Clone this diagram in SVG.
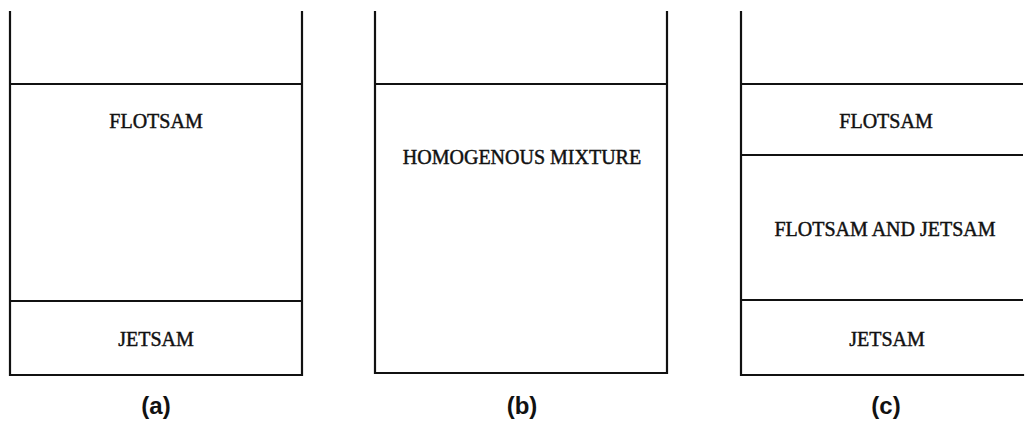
<svg xmlns="http://www.w3.org/2000/svg" width="1025" height="427" viewBox="0 0 1025 427">
  <style>
    .wall { fill: none; stroke: #111; stroke-width: 2.2; stroke-linejoin: miter; stroke-linecap: square; }
    .layer { stroke: #111; stroke-width: 2.2; }
    .lbl { font-family: "Liberation Serif", "Times New Roman", serif; font-size: 20px; fill: #111; stroke: #111; stroke-width: 0.45; text-anchor: middle; }
    .cap { font-family: "Liberation Sans", Arial, sans-serif; font-size: 24px; font-weight: bold; fill: #111; text-anchor: middle; }
  </style>
  <rect width="1025" height="427" fill="#fff"/>

  <!-- (a) segregated bed: flotsam above jetsam -->
  <g id="bed-a">
    <path class="wall" d="M10,12 V375 H302 V12"/>
    <line class="layer" x1="10" y1="84" x2="302" y2="84"/>
    <line class="layer" x1="10" y1="301" x2="302" y2="301"/>
    <text class="lbl" x="156" y="128">FLOTSAM</text>
    <text class="lbl" x="156" y="346">JETSAM</text>
    <text class="cap" x="156" y="414">(a)</text>
  </g>

  <!-- (b) fully mixed bed -->
  <g id="bed-b">
    <path class="wall" d="M375,12 V373 H667 V12"/>
    <line class="layer" x1="375" y1="84" x2="667" y2="84"/>
    <text class="lbl" x="522" y="164">HOMOGENOUS MIXTURE</text>
    <text class="cap" x="522" y="414">(b)</text>
  </g>

  <!-- (c) partially mixed bed -->
  <g id="bed-c">
    <path class="wall" d="M741,12 V375 H1023"/>
    <line class="layer" x1="741" y1="84" x2="1023" y2="84"/>
    <line class="layer" x1="741" y1="155" x2="1023" y2="155"/>
    <line class="layer" x1="741" y1="300" x2="1023" y2="300"/>
    <text class="lbl" x="886" y="128">FLOTSAM</text>
    <text class="lbl" x="885" y="236">FLOTSAM AND JETSAM</text>
    <text class="lbl" x="887" y="346">JETSAM</text>
    <text class="cap" x="886" y="414">(c)</text>
  </g>
</svg>
